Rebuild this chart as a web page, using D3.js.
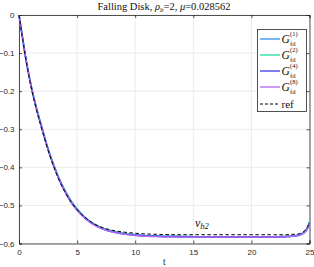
<!DOCTYPE html>
<html lang="en">
<head>
  <meta charset="UTF-8" />
  <title>Falling Disk</title>
  <script src="https://d3js.org/d3.v7.min.js"></script>
  <style>
    body { margin: 0; background: #fff; }
    .tick text { font-family: "Liberation Sans", sans-serif; font-size: 8px; fill: #262626; }
    .serif { font-family: "Liberation Serif", "DejaVu Serif", serif; fill: #111; }
  </style>
</head>
<body>
  <svg width="314" height="267"></svg>

  <script>
    // time samples and velocity series
    const tVals = [0, 0.25, 0.5, 0.75, 1, 1.5, 2, 2.5, 3, 3.5, 4, 4.5, 5, 5.5, 6, 6.5, 7, 7.5, 8, 9, 10, 11, 12, 14, 16, 18, 20, 22, 23, 23.5, 24, 24.3, 24.6, 24.8, 25];
    const g1 = [0, -0.048, -0.097, -0.14, -0.178, -0.243, -0.298, -0.35, -0.394, -0.432, -0.463, -0.489, -0.509, -0.526, -0.539, -0.549, -0.557, -0.563, -0.567, -0.573, -0.577, -0.579, -0.58, -0.581, -0.582, -0.582, -0.582, -0.582, -0.581, -0.58, -0.578, -0.575, -0.568, -0.559, -0.543];
    const g2 = [0, -0.049, -0.098, -0.141, -0.18, -0.245, -0.3, -0.352, -0.396, -0.434, -0.465, -0.491, -0.511, -0.527, -0.54, -0.55, -0.558, -0.564, -0.568, -0.574, -0.578, -0.58, -0.581, -0.582, -0.583, -0.583, -0.583, -0.583, -0.582, -0.581, -0.579, -0.576, -0.57, -0.561, -0.546];
    const g4 = [0, -0.049, -0.099, -0.142, -0.181, -0.246, -0.301, -0.353, -0.397, -0.435, -0.466, -0.492, -0.512, -0.528, -0.541, -0.551, -0.559, -0.565, -0.569, -0.575, -0.578, -0.58, -0.581, -0.582, -0.583, -0.583, -0.583, -0.583, -0.582, -0.581, -0.579, -0.576, -0.57, -0.562, -0.547];
    const g8 = [0, -0.05, -0.1, -0.143, -0.182, -0.247, -0.302, -0.354, -0.398, -0.436, -0.467, -0.493, -0.513, -0.529, -0.542, -0.552, -0.559, -0.565, -0.569, -0.575, -0.579, -0.581, -0.582, -0.583, -0.583, -0.583, -0.583, -0.583, -0.582, -0.581, -0.579, -0.576, -0.57, -0.562, -0.548];
    const ref = [0, -0.05, -0.1, -0.144, -0.183, -0.248, -0.303, -0.355, -0.399, -0.437, -0.467, -0.492, -0.511, -0.527, -0.539, -0.549, -0.556, -0.561, -0.565, -0.57, -0.573, -0.575, -0.576, -0.577, -0.577, -0.577, -0.577, -0.577, -0.577, -0.576, -0.575, -0.572, -0.566, -0.558, -0.545];

    const seriesNames = ["(1)", "(2)", "(4)", "(8)", "ref"];
    const seriesColors = ["#2f8fe6", "#1de0a0", "#3c3cf0", "#b066f0", "#000"];
    const xTicks = [0, 5, 10, 15, 20, 25];
    const yTicks = [0, -0.1, -0.2, -0.3, -0.4, -0.5, -0.6];

    const svg = d3.select("svg");
    const x = d3.scaleLinear().domain([0, 25]).range([19, 309.5]);
    const y = d3.scaleLinear().domain([-0.6, 0]).range([243.5, 15]);

    // grid
    svg.append("g").selectAll("line").data(xTicks).join("line")
      .attr("x1", d => x(d)).attr("x2", d => x(d))
      .attr("y1", y(0)).attr("y2", y(-0.6))
      .attr("stroke", "#e6e6e6").attr("stroke-width", 0.8);
    svg.append("g").selectAll("line").data(yTicks).join("line")
      .attr("y1", d => y(d)).attr("y2", d => y(d))
      .attr("x1", x(0)).attr("x2", x(25))
      .attr("stroke", "#e6e6e6").attr("stroke-width", 0.8);

    // axes
    svg.append("g").attr("transform", `translate(0,${y(-0.6)})`)
      .call(d3.axisBottom(x).tickValues(xTicks).tickSize(-3).tickPadding(6).tickFormat(d3.format("d")));
    svg.append("g").attr("transform", `translate(${x(0)},0)`)
      .call(d3.axisLeft(y).tickValues(yTicks).tickSize(-3).tickPadding(4.5).tickFormat(d => d === 0 ? "0" : d3.format(".1f")(d)));
    svg.append("g").attr("transform", `translate(0,${y(0)})`)
      .call(d3.axisTop(x).tickValues(xTicks).tickSize(-3).tickFormat(""));
    svg.append("g").attr("transform", `translate(${x(25)},0)`)
      .call(d3.axisRight(y).tickValues(yTicks).tickSize(-3).tickFormat(""));
    svg.selectAll(".domain").attr("stroke", "#262626").attr("stroke-width", 0.8);
    svg.selectAll(".tick line").attr("stroke", "#262626").attr("stroke-width", 0.8);

    // curves
    const line = d3.line().x((d, i) => x(tVals[i])).y(d => y(d)).curve(d3.curveMonotoneX);
    const allSeries = [g1, g2, g4, g8, ref];
    allSeries.forEach((s, i) => {
      svg.append("path").datum(s)
        .attr("d", line)
        .attr("fill", "none")
        .attr("stroke", seriesColors[i])
        .attr("stroke-width", i === 4 ? 1 : 1.5)
        .attr("stroke-dasharray", i === 4 ? "3.5,2.5" : null);
    });

    // title
    const title = svg.append("text").attr("class", "serif")
      .attr("x", 164).attr("y", 10).attr("text-anchor", "middle").attr("font-size", 10.5);
    title.append("tspan").text("Falling Disk, ");
    title.append("tspan").attr("font-style", "italic").text("ρ");
    title.append("tspan").attr("font-style", "italic").attr("font-size", 7).attr("dy", 2).text("b");
    title.append("tspan").attr("dy", -2).text("=2, ");
    title.append("tspan").attr("font-style", "italic").text("μ");
    title.append("tspan").text("=0.028562");

    // x label
    svg.append("text")
      .attr("x", x(12.5)).attr("y", 264.5).attr("text-anchor", "middle")
      .attr("font-family", "Liberation Sans, sans-serif").attr("font-size", 8.5).attr("fill", "#262626").text("t");

    // annotation
    const ann = svg.append("text").attr("class", "serif").attr("x", 195).attr("y", 227).attr("font-size", 12);
    ann.append("tspan").attr("font-style", "italic").text("v");
    ann.append("tspan").attr("font-style", "italic").attr("font-size", 8.5).attr("dy", 2).text("b2");

    // legend
    const lg = svg.append("g");
    lg.append("rect").attr("x", 257.5).attr("y", 29.5).attr("width", 49).attr("height", 82)
      .attr("fill", "#fff").attr("stroke", "#262626").attr("stroke-width", 0.8);
    const rowY = [39, 55, 71, 87, 104];
    seriesNames.forEach((name, i) => {
      lg.append("line").attr("x1", 260).attr("x2", 280).attr("y1", rowY[i]).attr("y2", rowY[i])
        .attr("stroke", seriesColors[i]).attr("stroke-width", i === 4 ? 1 : 1.3)
        .attr("stroke-dasharray", i === 4 ? "3,2" : null);
      if (i === 4) {
        lg.append("text").attr("class", "serif").attr("x", 281.5).attr("y", rowY[i] + 3.5)
          .attr("font-size", 11).text("ref");
      } else {
        lg.append("text").attr("class", "serif").attr("x", 281.5).attr("y", rowY[i] + 4)
          .attr("font-size", 11.5).attr("font-style", "italic").text("G");
        lg.append("text").attr("class", "serif").attr("x", 290).attr("y", rowY[i] - 3)
          .attr("font-size", 6.5).text(name);
        lg.append("text").attr("class", "serif").attr("x", 290).attr("y", rowY[i] + 6.5)
          .attr("font-size", 6.5).text("fd");
      }
    });
  </script>
</body>
</html>
